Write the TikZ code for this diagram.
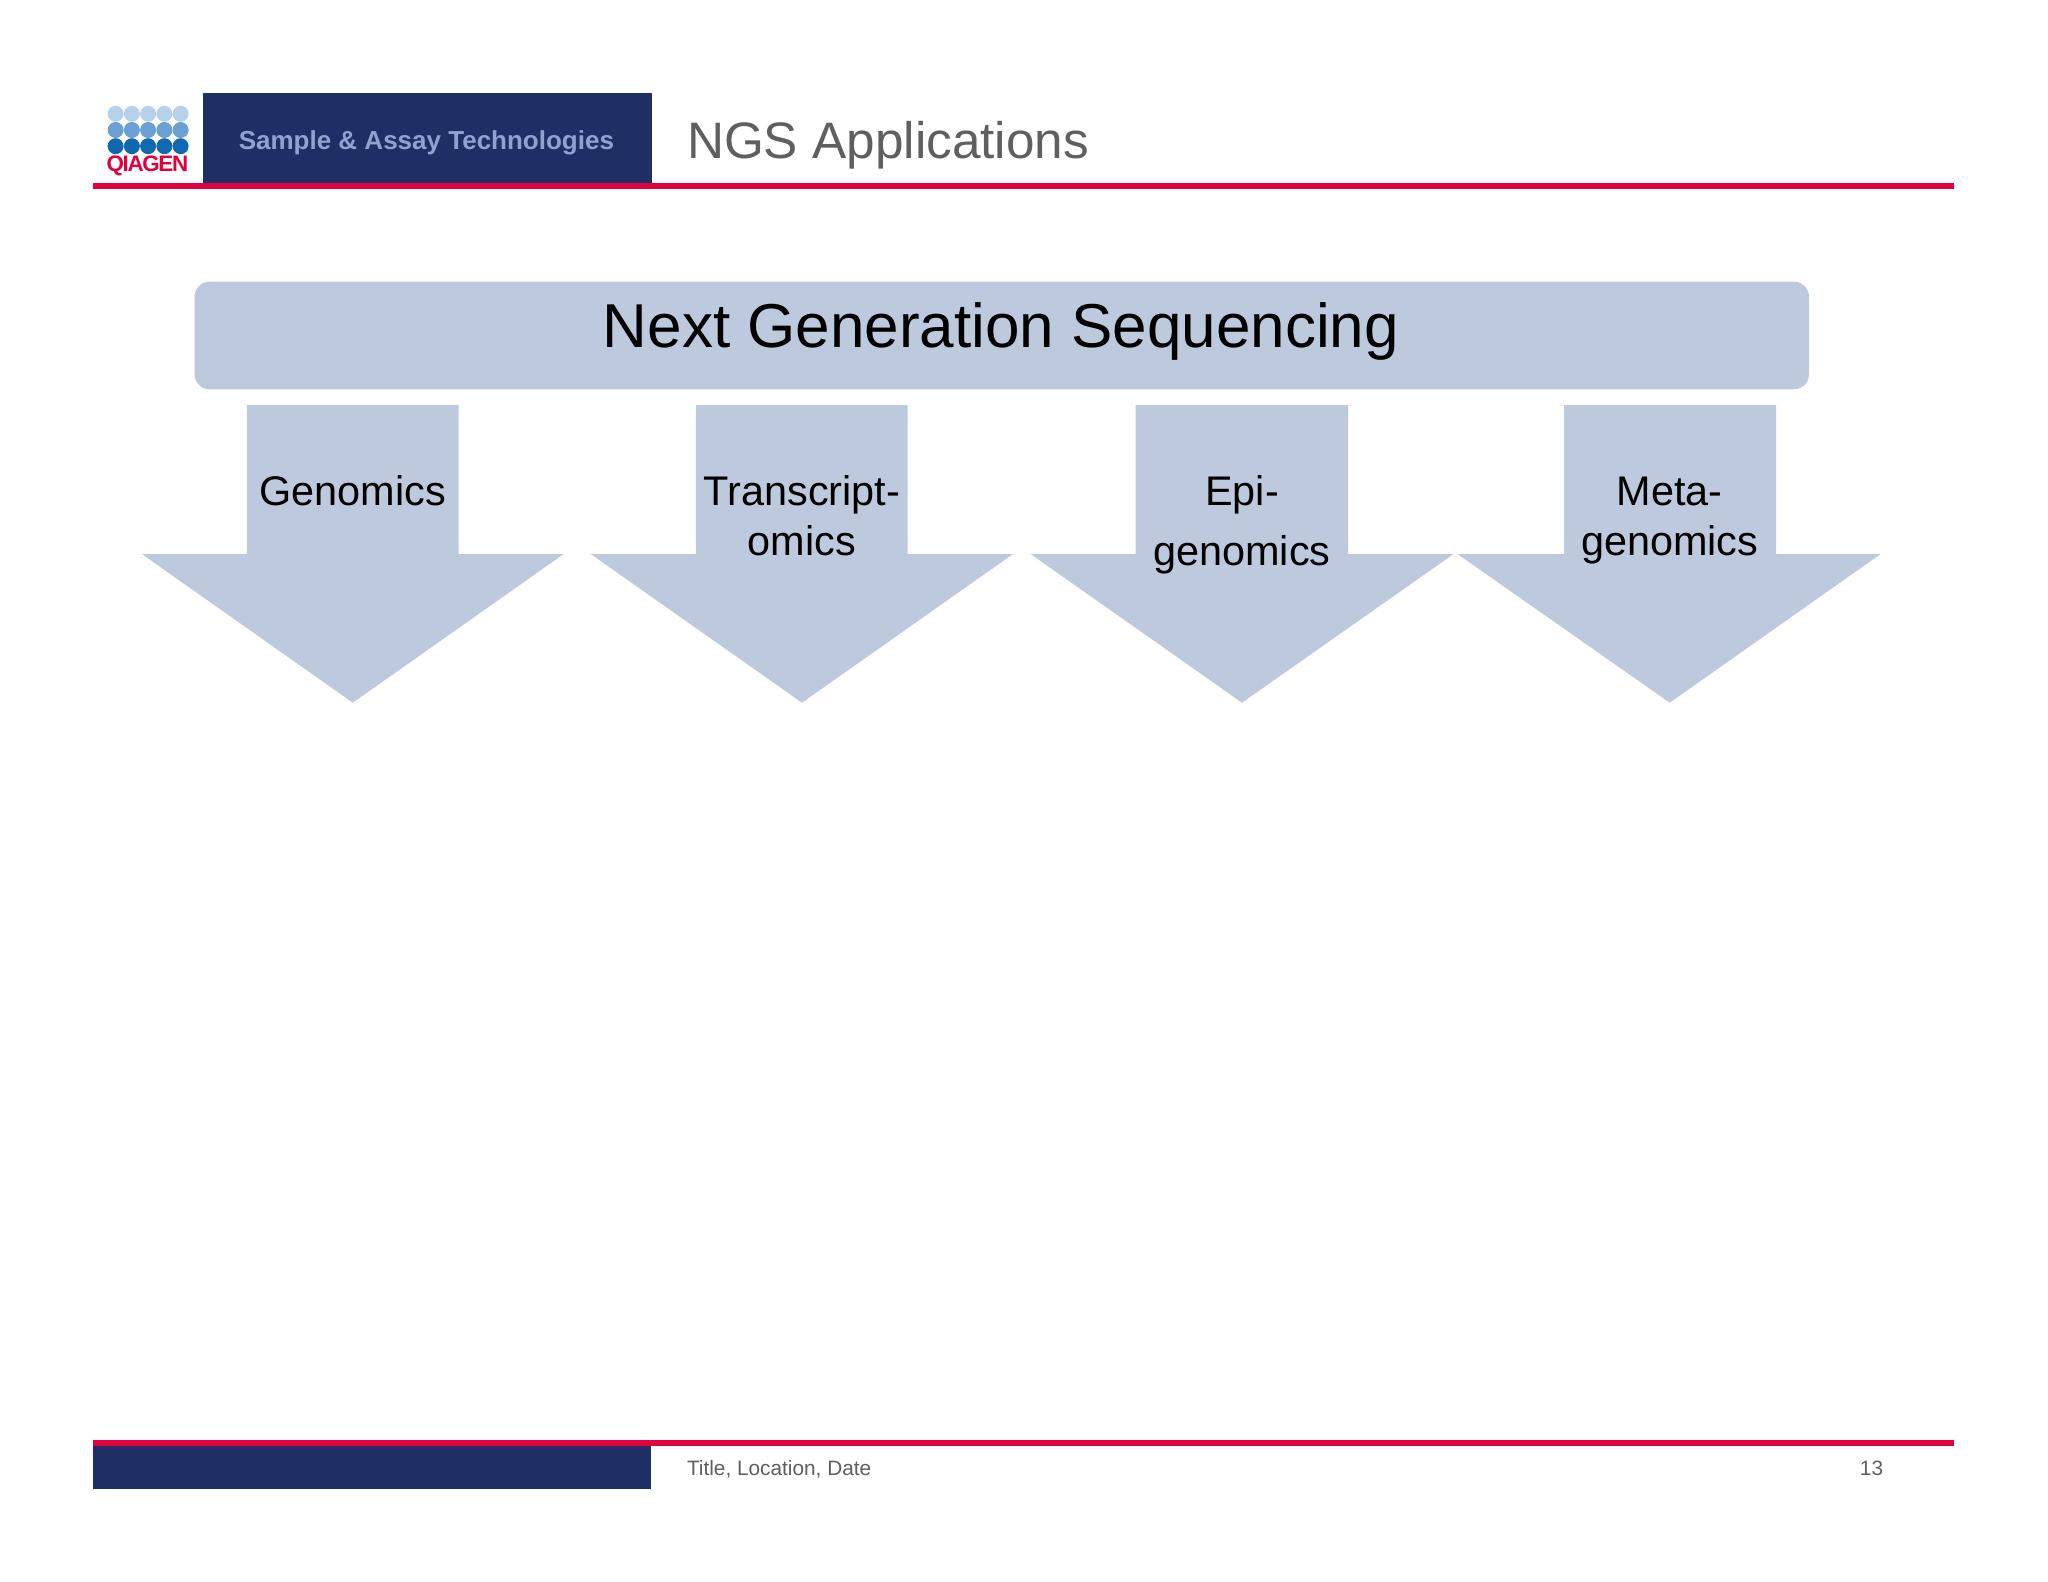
\documentclass[tikz,border=0pt]{standalone}
\usepackage{fontspec}
\setmainfont{Liberation Sans}
\definecolor{navy}{HTML}{1E2F66}
\definecolor{qred}{HTML}{E2003F}
\definecolor{pale}{HTML}{BDCADD}
\definecolor{graytxt}{HTML}{5F5F5F}
\definecolor{lightblue}{HTML}{8FA3D0}
\definecolor{dota}{HTML}{B5D2EA}
\definecolor{dotb}{HTML}{6BA0D2}
\definecolor{dotc}{HTML}{0F68B0}
\newcommand{\fsz}[1]{\fontsize{#1}{#1}\selectfont}
\tikzset{
  x=1pt,y=-1pt,
  txt/.style={inner sep=0pt,outer sep=0pt,anchor=base},
  label/.style={txt,text=black,font=\fsz{41.4}}
}
\begin{document}
\begin{tikzpicture}
\useasboundingbox (0,0) rectangle (2048,1582);
\fill[white] (0,0) rectangle (2048,1582);
% header
\fill[navy] (202.5,92.7) rectangle (651.7,184);
\fill[qred] (92.6,183.3) rectangle (1954,188.7);
% logo dots
\foreach \x in {115.6,131.9,148.1,164.4,180.6}{
  \fill[dota] (\x,113.8) circle (8);
  \fill[dotb] (\x,130) circle (8);
  \fill[dotc] (\x,146.2) circle (8);
}
\node[txt,anchor=base,text=qred,font=\bfseries\fsz{22.4}] (logo) at (147.4,171.7) {\addfontfeature{LetterSpace=-6}QIAGEN};
\node[txt,text=lightblue,font=\bfseries\fsz{26}] (tag) at (426.4,149) {Sample \& Assay Technologies};
\node[txt,anchor=base west,text=graytxt,font=\fsz{51.3}] (title) at (687,158) {NGS Applications};
% main band
\fill[pale,rounded corners=15] (194.6,281.7) rectangle (1809,389.3);
\node[txt,font=\fsz{62}] (ngs) at (1001,347.7) {Next Generation Sequencing};
% arrows
\fill[pale] (246.9,405)--(458.7,405)--(458.7,554)--(563.7,554)--(352.8,702.7)--(141.8,554)--(246.9,554)--cycle;
\fill[pale] (695.8,405)--(907.6,405)--(907.6,554)--(1013,554)--(802,702.7)--(590.7,554)--(695.8,554)--cycle;
\fill[pale] (1135.5,405)--(1348,405)--(1348,554)--(1453.6,554)--(1242,702.7)--(1030.6,554)--(1135.5,554)--cycle;
\fill[pale] (1564,405)--(1776,405)--(1776,554)--(1880.6,554)--(1669.7,702.7)--(1457.5,554)--(1564,554)--cycle;
\node[label] (a1) at (352.8,505) {Genomics};
\node[label] (a2a) at (802,505) {Transcript-};
\node[label] (a2b) at (802,555) {omics};
\node[label] (a3a) at (1242,505) {Epi-};
\node[label] (a3b) at (1242,565) {genomics};
\node[label] (a4a) at (1669.7,505) {Meta-};
\node[label] (a4b) at (1669.7,555) {genomics};
% footer
\fill[navy] (92.6,1445) rectangle (651,1489.3);
\fill[qred] (92.6,1440) rectangle (1954,1446);
\node[txt,anchor=base west,text=graytxt,font=\fsz{20.8}] (foot) at (687,1475) {Title, Location, Date};
\node[txt,text=graytxt,font=\fsz{20.8}] (page) at (1871.5,1475) {13};
\end{tikzpicture}
\end{document}
